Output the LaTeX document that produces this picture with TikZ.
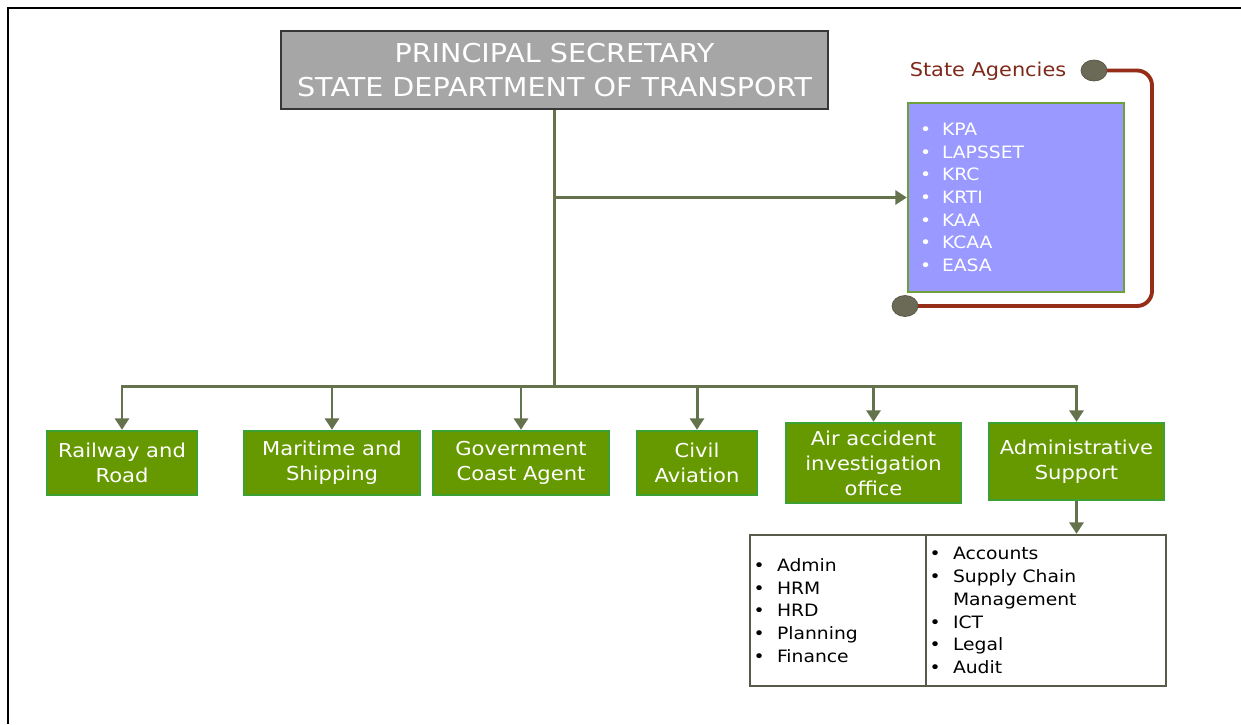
\documentclass[tikz,border=0pt]{standalone}
\usepackage{fontspec}
\usepackage{tikz}
\usetikzlibrary{arrows.meta,shapes.geometric}

\newfontfamily\orgfont[FakeStretch=1.1]{DejaVu Sans}
\newcommand{\orgitem}[1]{\makebox[0.42cm][l]{\hspace*{-0.05cm}\textbullet}#1}

\definecolor{psgray}{RGB}{166,166,166}
\definecolor{psedge}{RGB}{55,55,55}
\definecolor{unitgreen}{RGB}{102,153,0}
\definecolor{unitedge}{RGB}{60,160,50}
\definecolor{agblue}{RGB}{153,153,255}
\definecolor{agedge}{RGB}{110,160,60}
\definecolor{linkcol}{RGB}{100,115,75}
\definecolor{listedge}{RGB}{90,90,75}
\definecolor{loopred}{RGB}{150,45,25}
\definecolor{titlered}{RGB}{125,40,25}
\definecolor{dotcol}{RGB}{107,106,86}

\pgfdeclarelayer{back}
\pgfsetlayers{back,main}

\begin{document}
\begin{tikzpicture}[x=0.02cm, y=-0.02cm,
    unit/.style={draw=unitedge, line width=1.4pt, fill=unitgreen, text=white, align=center,
        inner sep=0pt, minimum height=1.28cm, font=\orgfont\fontsize{10.9}{14.2}\selectfont},
    listbox/.style={draw=listedge, line width=1.4pt, fill=white, align=left, inner xsep=0.12cm,
        minimum height=3.02cm, font=\orgfont\fontsize{9.7}{13}\selectfont},
    link/.style={draw=linkcol, line width=1.7pt},
    pijl/.style={link, -{Triangle[width=8pt,length=6.5pt]}},
    dot/.style={ellipse, draw=dotcol!80!black, fill=dotcol, minimum width=0.52cm, minimum height=0.42cm, inner sep=0pt}]

    \useasboundingbox (0,0) rectangle (1241,724);
    \draw[line width=1.7pt] (8,724) -- (8,8) -- (1241,8);

    \node[draw=psedge, line width=1.4pt, fill=psgray, text=white, align=center,
        minimum width=10.94cm, minimum height=1.56cm, inner sep=0pt,
        font=\orgfont\fontsize{14.8}{19.3}\selectfont] (ps) at (554.5,70)
        {PRINCIPAL SECRETARY\\STATE DEPARTMENT OF TRANSPORT};

    % state agencies
    \node[draw=agedge, line width=1.4pt, fill=agblue, text=white, align=left,
        minimum height=3.78cm, inner xsep=0.24cm, text width=3.84cm,
        font=\orgfont\fontsize{9.7}{12.9}\selectfont] (agencies) at (1016,197.5)
        {\makebox[0.44cm][l]{\textbullet}KPA\\ \makebox[0.44cm][l]{\textbullet}LAPSSET\\
         \makebox[0.44cm][l]{\textbullet}KRC\\ \makebox[0.44cm][l]{\textbullet}KRTI\\
         \makebox[0.44cm][l]{\textbullet}KAA\\ \makebox[0.44cm][l]{\textbullet}KCAA\\
         \makebox[0.44cm][l]{\textbullet}EASA};
    \node[text=titlered, inner sep=0pt, font=\orgfont\fontsize{10.8}{12}\selectfont] (agtitle) at (988,71) {State Agencies};
    \node[dot] (dotA) at (1094,70.5) {};
    \node[dot] (dotB) at (905,306) {};
    \coordinate (turn) at (1152,0);
    \begin{pgfonlayer}{back}
    \draw[draw=loopred, line width=2.2pt, rounded corners=0.3cm]
        (dotA.center) -- (dotA.center -| turn) -- (dotB.center -| turn) -- (dotB.center);
    \end{pgfonlayer}

    % units
    \node[unit, minimum width=3cm] (rail) at (122,463) {Railway and\\Road};
    \node[unit, minimum width=3.52cm] (mar) at (332,463) {Maritime and\\Shipping};
    \node[unit, minimum width=3.52cm] (gca) at (521,463) {Government\\Coast Agent};
    \node[unit, minimum width=2.4cm] (civ) at (697,463) {Civil\\Aviation};
    \node[unit, minimum width=3.5cm, minimum height=1.6cm] (aaio) at (873.5,463) {Air accident\\investigation\\office};
    \node[unit, minimum width=3.5cm, minimum height=1.54cm] (adm) at (1076.5,461.5) {Administrative\\Support};

    \node[listbox, text width=3.28cm] (admleft) at (838,610.5)
        {\orgitem{Admin}\\ \orgitem{HRM}\\ \orgitem{HRD}\\ \orgitem{Planning}\\ \orgitem{Finance}};
    \node[listbox, text width=4.56cm] (admright) at (1046,610.5)
        {\orgitem{Accounts}\\ \orgitem{Supply Chain}\\ \hspace*{0.42cm}Management\\
         \orgitem{ICT}\\ \orgitem{Legal}\\ \orgitem{Audit}};

    % connectors
    \coordinate (bus) at (ps.south |- 0,386);
    \draw[link] (ps.south) -- (bus);
    \draw[pijl] (ps.south |- agencies.west) -- (agencies.west);
    \foreach \target in {rail, mar, gca, civ, aaio, adm}
        \draw[pijl] (bus) -| (\target);
    \draw[pijl] (adm.south) -- (adm.south |- admright.north);

\end{tikzpicture}
\end{document}
